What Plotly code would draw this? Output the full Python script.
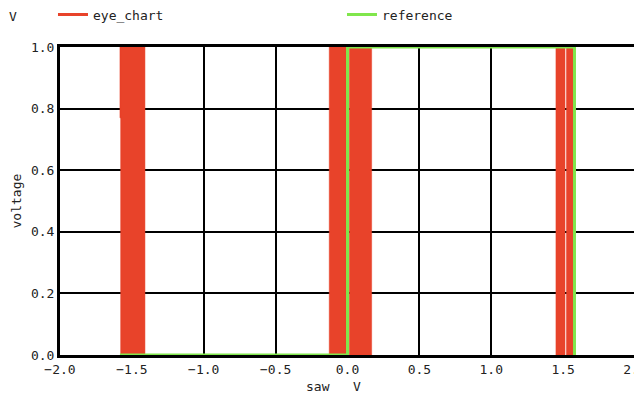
import plotly.graph_objects as go

# ---- data ----
# eye_chart: filled vertical bands (left edge, right edge, low, high) in saw volts
eye_left = [-1.578, -1.583, -0.127, 0.0125, 1.450, 1.523]
eye_right = [-1.409, -1.575, -0.010, 0.168, 1.513, 1.572]
eye_low = [0.0, 0.77, 0.0, 0.0, 0.0, 0.0]
eye_high = [1.0, 1.0, 1.0, 1.0, 1.0, 1.0]

# reference: step trace
ref_x = [-1.583, 0.0, 0.0, 1.579, 1.579]
ref_y = [0.0, 0.0, 1.0, 1.0, 0.0]

x_ticks = [-2.0, -1.5, -1.0, -0.5, 0.0, 0.5, 1.0, 1.5, 2.0]
y_ticks = [0.0, 0.2, 0.4, 0.6, 0.8, 1.0]

RED = "#E8432A"
GREEN = "#80E64C"
FONT = "DejaVu Sans Mono"
TXT = "#222222"

# build polygons for the eye bands
px, py = [], []
for l, r, lo, hi in zip(eye_left, eye_right, eye_low, eye_high):
    px += [l, r, r, l, l, None]
    py += [lo, lo, hi, hi, lo, None]

fig = go.Figure()
fig.add_trace(go.Scatter(x=px, y=py, mode="lines", fill="toself",
                         fillcolor=RED, line=dict(color=RED, width=0.5),
                         showlegend=False, hoverinfo="skip"))
# legend entry for eye_chart (line sample)
fig.add_trace(go.Scatter(x=[None], y=[None], mode="lines", name="eye_chart",
                         line=dict(color=RED, width=3)))
fig.add_trace(go.Scatter(x=ref_x, y=ref_y, mode="lines", name="reference",
                         line=dict(color=GREEN, width=3)))

# page body has an 8px default margin: figure is offset by (8, 8)
fig.update_layout(
    width=634, height=387,
    margin=dict(l=52, r=7, t=39, b=40, autoexpand=False),
    paper_bgcolor="white", plot_bgcolor="white",
    font=dict(family=FONT, size=13, color=TXT),
    showlegend=True,
    legend=dict(orientation="h", x=-0.0122, xanchor="left",
                y=(355 - 14.5) / 308, yanchor="middle",
                entrywidth=244, entrywidthmode="pixels",
                font=dict(family=FONT, size=13, color=TXT),
                bgcolor="rgba(0,0,0,0)", borderwidth=0),
    xaxis=dict(range=[-2, 2], tickvals=x_ticks,
               ticktext=[f"{v:.1f}".replace("-", "\u2212") for v in x_ticks],
               ticklabeloverflow="allow",
               showgrid=True, gridcolor="black", gridwidth=2,
               zeroline=False, showline=True, linecolor="black", linewidth=3,
               mirror=True, ticks="", layer="below traces",
               tickfont=dict(family=FONT, size=13, color=TXT)),
    yaxis=dict(range=[0, 1], tickvals=y_ticks,
               ticktext=[f"{v:.1f}" for v in y_ticks],
               showgrid=True, gridcolor="black", gridwidth=2,
               zeroline=True, zerolinecolor="black", zerolinewidth=4,
               showline=True, linecolor="black", linewidth=3,
               mirror=True, ticks="", layer="below traces",
               tickfont=dict(family=FONT, size=13, color=TXT)),
    annotations=[
        dict(text="saw&nbsp;&nbsp;&nbsp;V", xref="paper", yref="paper",
             x=(333 - 60) / 575, y=-(386 - 355) / 308, xanchor="center",
             yanchor="middle", showarrow=False,
             font=dict(family=FONT, size=13, color=TXT)),
        dict(text="voltage", xref="paper", yref="paper",
             x=(15.5 - 60) / 575, y=0.5, xanchor="center", yanchor="middle",
             textangle=-90, showarrow=False,
             font=dict(family=FONT, size=13, color=TXT)),
        dict(text="V", xref="paper", yref="paper",
             x=(13 - 60) / 575, y=(355 - 16) / 308, xanchor="center",
             yanchor="middle", showarrow=False,
             font=dict(family=FONT, size=13, color=TXT)),
    ],
)

fig.write_html("out.html")
